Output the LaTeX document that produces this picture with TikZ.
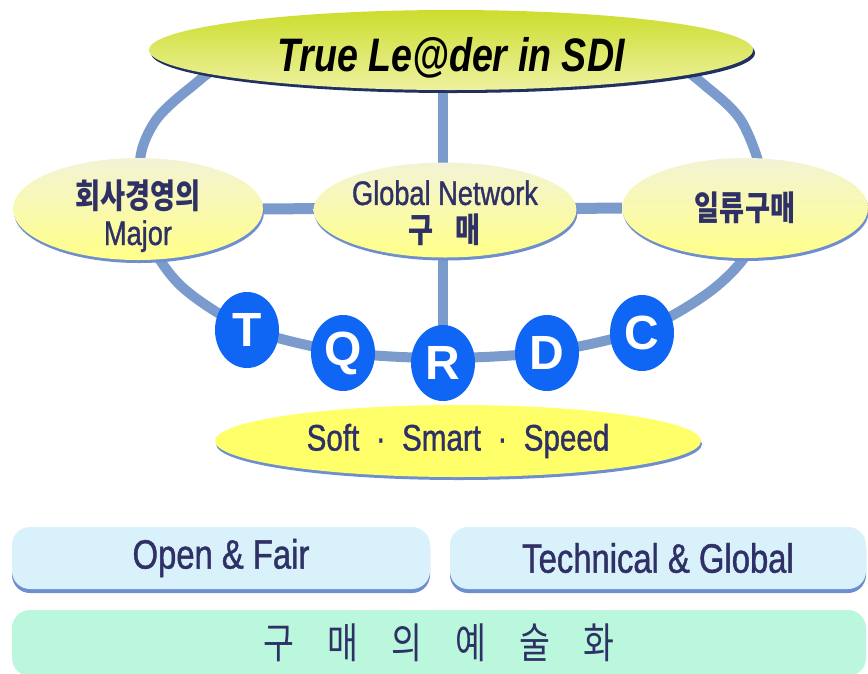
\documentclass[tikz,border=0pt]{standalone}
\usepackage{fontspec}
\setmainfont{Liberation Sans}
\newfontfamily\narrowsans[FakeStretch=0.8]{Liberation Sans}
\newfontfamily\heavysans[FakeStretch=0.8,FakeBold=1]{Liberation Sans}
\newfontfamily\kr[FakeStretch=0.8]{Noto Sans CJK KR}

\usetikzlibrary{shapes.geometric,shadows,backgrounds}

\definecolor{ink}{HTML}{2E3066}
\definecolor{ringblue}{HTML}{7B9BCD}
\definecolor{edgeblue}{HTML}{6E8ED0}
\definecolor{dotblue}{HTML}{0F66F5}
\definecolor{paletop}{HTML}{F3F3D6}
\definecolor{palebot}{HTML}{FFFF88}
\definecolor{titletop}{HTML}{CCDD2E}
\definecolor{titlebot}{HTML}{EEF2A0}
\definecolor{titleshadow}{HTML}{203060}
\definecolor{bandfill}{HTML}{FFFF6A}
\definecolor{platefill}{HTML}{D9F1FB}
\definecolor{mintfill}{HTML}{BBF7DC}

\tikzset{
  crown/.style={ellipse,inner sep=0pt,minimum width=604pt,minimum height=80pt,
    top color=titletop,bottom color=titlebot,
    general shadow={fill=titleshadow,shadow xshift=2pt,shadow yshift=-3pt},
    font=\narrowsans\bfseries\itshape\fontsize{47}{47}\selectfont},
  bubble/.style={ellipse,inner sep=0pt,top color=paletop,bottom color=palebot,
    general shadow={fill=edgeblue,shadow xshift=1pt,shadow yshift=-3pt},
    text=ink,align=center,font=\heavysans\fontsize{34}{36}\selectfont},
  letter/.style={ellipse,inner sep=0pt,minimum width=64pt,minimum height=76pt,
    fill=dotblue,text=white,font=\bfseries\fontsize{48}{48}\selectfont},
  band/.style={ellipse,inner sep=0pt,minimum width=486pt,minimum height=72pt,
    fill=bandfill,general shadow={fill=edgeblue,shadow xshift=1pt,shadow yshift=-3pt},
    text=ink,font=\heavysans\fontsize{37}{37}\selectfont},
  plate/.style={rectangle,rounded corners=18pt,inner sep=0pt,minimum height=62pt,
    fill=platefill,general shadow={fill=edgeblue,shadow yshift=-4pt},
    text=ink,font=\heavysans\fontsize{41}{41}\selectfont},
  artbar/.style={rectangle,rounded corners=18pt,inner sep=0pt,minimum width=854pt,
    minimum height=66pt,fill=mintfill,text=ink,font=\kr\fontsize{42}{42}\selectfont},
  spoke/.style={draw=ringblue,line width=11pt}
}

\begin{document}
\begin{tikzpicture}[x=1pt,y=-1pt]
\useasboundingbox (0,0) rectangle (868,673);
\clip (0,0) rectangle (868,673);

\node[crown] (title) at (451,50) {\raisebox{-21pt}[0pt][0pt]{True Le@der in SDI}};
\node[bubble,minimum width=250pt,minimum height=102pt] (mgmt) at (138,209)
  {\raisebox{-36pt}[0pt][0pt]{\shortstack{{\kr\bfseries 회사경영의}\\[6pt]Major}}};
\node[bubble,minimum width=250pt,minimum height=95pt] (net) at (445,210)
  {\raisebox{-32pt}[0pt][0pt]{\shortstack{Global Network\\[5pt]{\kr\bfseries 구\hspace{22pt}매}}}};
\node[bubble,minimum width=246pt,minimum height=100pt] (first) at (745,208)
  {{\kr\bfseries 일류구매}};

\node[letter] (T) at (247,330) {T};
\node[letter] (Q) at (343,353) {Q};
\node[letter] (R) at (443,363) {R};
\node[letter] (D) at (547,353) {D};
\node[letter] (C) at (642,333) {C};

\node[band] (triple) at (458,441) {Soft~ · ~Smart~ · ~Speed};

\node[plate,minimum width=418pt] (open) at (221,558) {Open \& Fair};
\node[plate,minimum width=416pt] (tech) at (658,558) {Technical \& Global};
\node[artbar] (art) at (439,643)
  {구\hspace{33pt}매\hspace{33pt}의\hspace{33pt}예\hspace{33pt}술\hspace{33pt}화};

\begin{scope}[on background layer]
\draw[ringblue,line width=10pt] plot[smooth cycle] coordinates {
  (449,44) (580,48) (668,62) (708,88) (742,122) (762,180) (752,245) (712,290)
  (642,330) (547,352) (443,358) (343,352) (247,328) (180,285) (145,230)
  (140,160) (156,120) (190,88) (230,62) (320,48)};
\draw[spoke,line width=10pt] (R.center) -- (R.center |- title.center);
\draw[spoke] (mgmt) -- (first);
\end{scope}
\end{tikzpicture}
\end{document}
